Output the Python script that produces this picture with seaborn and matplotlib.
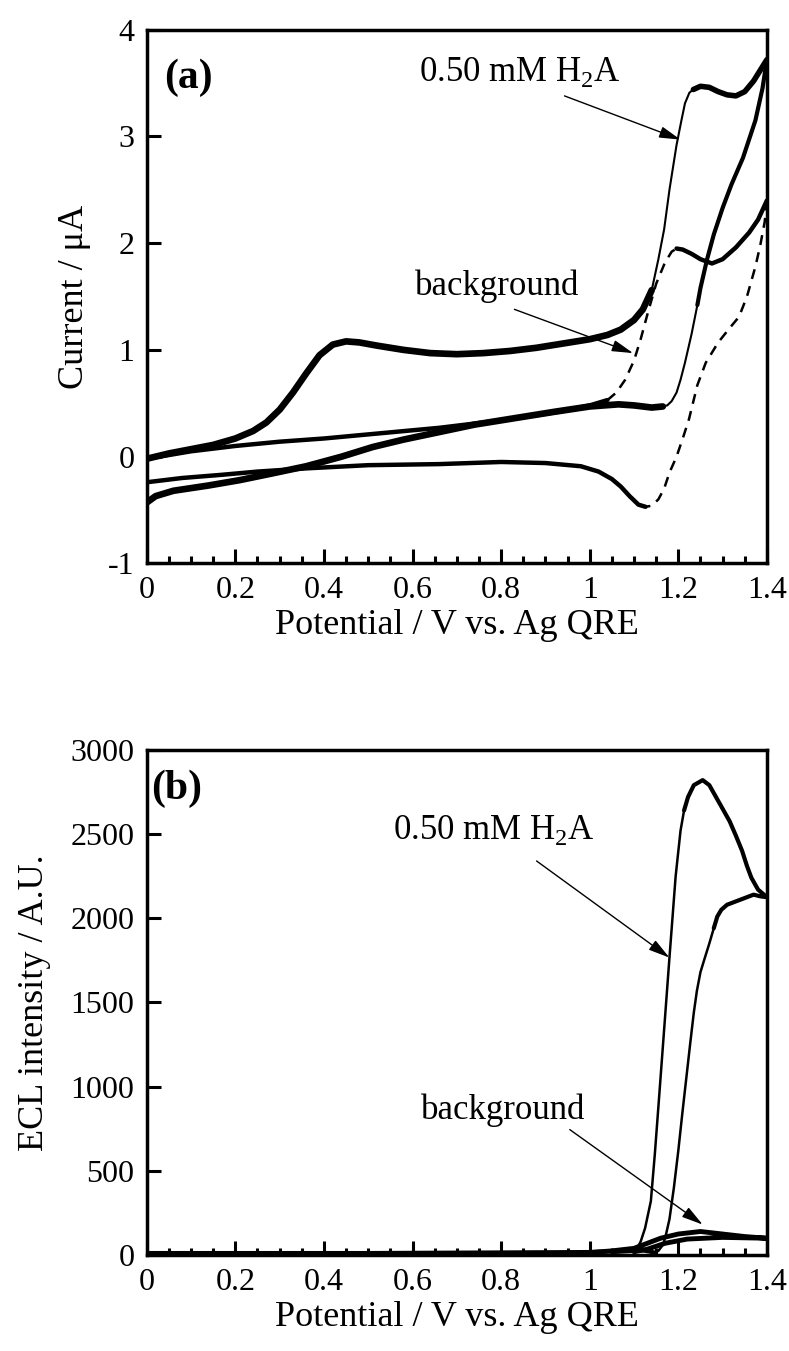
import numpy as np
import pandas as pd
import matplotlib
matplotlib.use("Agg")
import matplotlib.pyplot as plt
import seaborn as sns
from matplotlib.ticker import MultipleLocator, FormatStrFormatter

# ---- (a) cyclic voltammograms, potential in V, current in uA ----
# 0.50 mM H2A, forward sweep
h2a_fwd_E = [0.00, 0.05, 0.10, 0.15, 0.20, 0.24, 0.27, 0.30, 0.33, 0.36, 0.39, 0.42, 0.45, 0.48,
             0.52, 0.58, 0.64, 0.70, 0.76, 0.82, 0.88, 0.94, 1.00, 1.04, 1.07, 1.10, 1.12, 1.14]
h2a_fwd_I = [-0.02, 0.03, 0.07, 0.11, 0.17, 0.24, 0.32, 0.44, 0.60, 0.78, 0.95, 1.05, 1.08, 1.07,
             1.04, 1.00, 0.97, 0.96, 0.97, 0.99, 1.02, 1.06, 1.10, 1.14, 1.19, 1.28, 1.38, 1.56]
h2a_rise_E = [1.14, 1.155, 1.168, 1.18, 1.196, 1.207, 1.215, 1.225, 1.234]
h2a_rise_I = [1.56, 1.85, 2.13, 2.50, 2.92, 3.15, 3.31, 3.41, 3.44]
h2a_top_E = [1.234, 1.25, 1.27, 1.29, 1.31, 1.33, 1.35, 1.37, 1.385, 1.40]
h2a_top_I = [3.44, 3.47, 3.46, 3.42, 3.39, 3.38, 3.42, 3.52, 3.62, 3.72]
# 0.50 mM H2A, reverse sweep
h2a_back_E = [1.40, 1.39, 1.374, 1.346, 1.32, 1.30, 1.28, 1.265, 1.25, 1.243]
h2a_back_I = [3.72, 3.45, 3.15, 2.80, 2.55, 2.33, 2.08, 1.85, 1.58, 1.42]
h2a_drop_E = [1.243, 1.23, 1.215, 1.205, 1.196, 1.185, 1.175, 1.165]
h2a_drop_I = [1.42, 1.15, 0.88, 0.72, 0.60, 0.52, 0.48, 0.47]
h2a_rev_E = [1.165, 1.14, 1.10, 1.065, 1.00, 0.92, 0.83, 0.74, 0.66, 0.58, 0.51, 0.44,
             0.36, 0.28, 0.21, 0.14, 0.06, 0.02, 0.00]
h2a_rev_I = [0.47, 0.46, 0.48, 0.49, 0.47, 0.42, 0.36, 0.30, 0.23, 0.16, 0.09, 0.00,
             -0.09, -0.16, -0.22, -0.27, -0.32, -0.37, -0.43]

# background, forward sweep
bg_fwd_E = [0.00, 0.10, 0.20, 0.30, 0.40, 0.53, 0.66, 0.76, 0.85, 0.93, 1.00, 1.04]
bg_fwd_I = [-0.02, 0.05, 0.10, 0.14, 0.17, 0.22, 0.27, 0.32, 0.37, 0.42, 0.48, 0.53]
bg_rise_E = [1.04, 1.06, 1.08, 1.10, 1.115, 1.13, 1.15, 1.17, 1.185, 1.196]
bg_rise_I = [0.53, 0.60, 0.72, 0.90, 1.10, 1.33, 1.62, 1.82, 1.92, 1.95]
bg_top_E = [1.196, 1.21, 1.23, 1.25, 1.276, 1.30, 1.33, 1.36, 1.38, 1.40]
bg_top_I = [1.95, 1.94, 1.90, 1.85, 1.81, 1.85, 1.96, 2.10, 2.22, 2.40]
# background, reverse sweep
bg_drop_E = [1.40, 1.395, 1.385, 1.374, 1.355, 1.337, 1.315, 1.29, 1.262, 1.243, 1.224,
             1.21, 1.196, 1.18, 1.168, 1.155, 1.14, 1.126]
bg_drop_I = [2.40, 2.20, 1.98, 1.78, 1.50, 1.31, 1.20, 1.07, 0.88, 0.67, 0.35,
             0.17, 0.00, -0.15, -0.30, -0.40, -0.46, -0.47]
bg_rev_E = [1.126, 1.11, 1.09, 1.07, 1.05, 1.02, 0.98, 0.90, 0.80, 0.66, 0.50, 0.36, 0.25,
            0.17, 0.08, 0.00]
bg_rev_I = [-0.47, -0.45, -0.37, -0.28, -0.21, -0.14, -0.09, -0.06, -0.05, -0.07, -0.08,
            -0.11, -0.14, -0.17, -0.20, -0.24]

# ---- (b) ECL intensity, A.U. ----
ecl_base_E = [0.00, 0.50, 1.00, 1.08, 1.105]
ecl_base_I = [12, 12, 18, 25, 30]
ecl_fwd_E = [1.105, 1.115, 1.125, 1.138, 1.147, 1.156, 1.168, 1.18, 1.194, 1.205, 1.213]
ecl_fwd_I = [30, 80, 160, 320, 600, 915, 1340, 1766, 2250, 2520, 2640]
ecl_top_E = [1.213, 1.222, 1.235, 1.255, 1.27, 1.285, 1.30, 1.316, 1.33, 1.344, 1.355,
             1.365, 1.38, 1.40, 1.385, 1.37, 1.35, 1.33, 1.31, 1.297, 1.288, 1.28]
ecl_top_I = [2640, 2720, 2790, 2820, 2790, 2720, 2650, 2575, 2490, 2400, 2310,
             2240, 2170, 2125, 2130, 2140, 2120, 2100, 2080, 2050, 2010, 1940]
ecl_rev_E = [1.28, 1.27, 1.26, 1.25, 1.242, 1.235, 1.227, 1.218, 1.209, 1.200, 1.19,
             1.18, 1.172, 1.166, 1.155, 1.147]
ecl_rev_I = [1940, 1850, 1766, 1680, 1570, 1440, 1260, 1050, 840, 620, 400,
             213, 120, 64, 25, 15]
ecl_tail_E = [1.147, 1.12, 1.10, 1.05]
ecl_tail_I = [15, 28, 25, 18]
bg_ecl_E = [1.00, 1.05, 1.10, 1.13, 1.16, 1.20, 1.25, 1.30, 1.35, 1.40, 1.30, 1.22, 1.17,
            1.13, 1.10]
bg_ecl_I = [15, 25, 40, 70, 100, 125, 140, 125, 110, 100, 105, 95, 70, 35, 20]

sns.set_style("ticks")
plt.rcParams["font.family"] = ["Liberation Serif", "DejaVu Serif"]
plt.rcParams["mathtext.fontset"] = "custom"
plt.rcParams["mathtext.rm"] = "Liberation Serif"
plt.rcParams["axes.unicode_minus"] = False
plt.rcParams["text.color"] = "black"
plt.rcParams["axes.labelcolor"] = "black"
plt.rcParams["xtick.color"] = "black"
plt.rcParams["ytick.color"] = "black"

TICK_FS = 23
LAB_FS = 26

fig = plt.figure(figsize=(7.89, 13.51), dpi=100)
ax1 = fig.add_axes([0.186, 0.583, 0.786, 0.395])
ax2 = fig.add_axes([0.186, 0.071, 0.786, 0.374])


def seg(ax, E, I, lw, ls="-"):
    d = pd.DataFrame({"E": E, "I": I})
    sns.lineplot(data=d, x="E", y="I", sort=False, estimator=None, ax=ax,
                 color="black", linewidth=lw, linestyle=ls)


# panel (a)
seg(ax1, h2a_fwd_E, h2a_fwd_I, 4.8)
seg(ax1, h2a_rise_E, h2a_rise_I, 1.5)
seg(ax1, h2a_top_E, h2a_top_I, 4.0)
seg(ax1, h2a_back_E, h2a_back_I, 3.0)
seg(ax1, h2a_drop_E, h2a_drop_I, 1.5)
seg(ax1, h2a_rev_E, h2a_rev_I, 4.8)
seg(ax1, bg_fwd_E, bg_fwd_I, 3.2)
seg(ax1, bg_rise_E, bg_rise_I, 1.8, (0, (4, 3)))
seg(ax1, bg_top_E, bg_top_I, 3.2)
seg(ax1, bg_drop_E, bg_drop_I, 1.8, (0, (4, 3)))
seg(ax1, bg_rev_E, bg_rev_I, 3.2)

# panel (b)
seg(ax2, ecl_base_E, ecl_base_I, 3.0)
seg(ax2, ecl_fwd_E, ecl_fwd_I, 1.8)
seg(ax2, ecl_top_E, ecl_top_I, 3.0)
seg(ax2, ecl_rev_E, ecl_rev_I, 1.8)
seg(ax2, ecl_tail_E, ecl_tail_I, 3.0)
seg(ax2, bg_ecl_E, bg_ecl_I, 3.5)

for ax in (ax1, ax2):
    ax.set_xlim(0, 1.4)
    ax.xaxis.set_major_locator(MultipleLocator(0.2))
    ax.xaxis.set_minor_locator(MultipleLocator(0.05))
    ax.xaxis.set_major_formatter(FormatStrFormatter("%g"))
    ax.tick_params(axis="both", which="major", direction="in", length=10, width=2.2,
                   labelsize=TICK_FS, pad=9, top=False, right=False, colors="black")
    ax.tick_params(axis="x", which="minor", direction="in", length=5, width=2.2,
                   top=False)
    for s in ax.spines.values():
        s.set_linewidth(2.5)
        s.set_color("black")
    ax.set_xlabel("Potential / V vs. Ag QRE", fontsize=LAB_FS, labelpad=3)
    ax.grid(False)

ax1.set_ylim(-1, 4)
ax1.yaxis.set_major_locator(MultipleLocator(1))
ax1.set_ylabel("Current / μA", fontsize=LAB_FS, labelpad=12)

ax2.set_ylim(0, 3000)
ax2.yaxis.set_major_locator(MultipleLocator(500))
ax2.set_ylabel("ECL intensity / A.U.", fontsize=LAB_FS, labelpad=14)

arrow = dict(arrowstyle="-|>,head_length=1.3,head_width=0.35", color="black",
             linewidth=1.0, shrinkA=0, shrinkB=0)

ax1.text(0.04, 3.55, "(a)", fontsize=30, fontweight="bold", va="center")
ax1.text(0.615, 3.6, "0.50 mM H$_\\mathregular{2}$A", fontsize=25, va="center")
ax1.annotate("", xy=(1.205, 2.97), xytext=(0.943, 3.38), arrowprops=arrow)
ax1.text(0.605, 1.6, "background", fontsize=25, va="center")
ax1.annotate("", xy=(1.098, 0.97), xytext=(0.83, 1.38), arrowprops=arrow)

ax2.text(0.01, 2766, "(b)", fontsize=30, fontweight="bold", va="center")
ax2.text(0.555, 2521, "0.50 mM H$_\\mathregular{2}$A", fontsize=25, va="center")
ax2.annotate("", xy=(1.18, 1766), xytext=(0.88, 2340), arrowprops=arrow)
ax2.text(0.62, 862, "background", fontsize=25, va="center")
ax2.annotate("", xy=(1.255, 181), xytext=(0.955, 745), arrowprops=arrow)

fig.savefig("out.png", dpi=100, facecolor="white")
